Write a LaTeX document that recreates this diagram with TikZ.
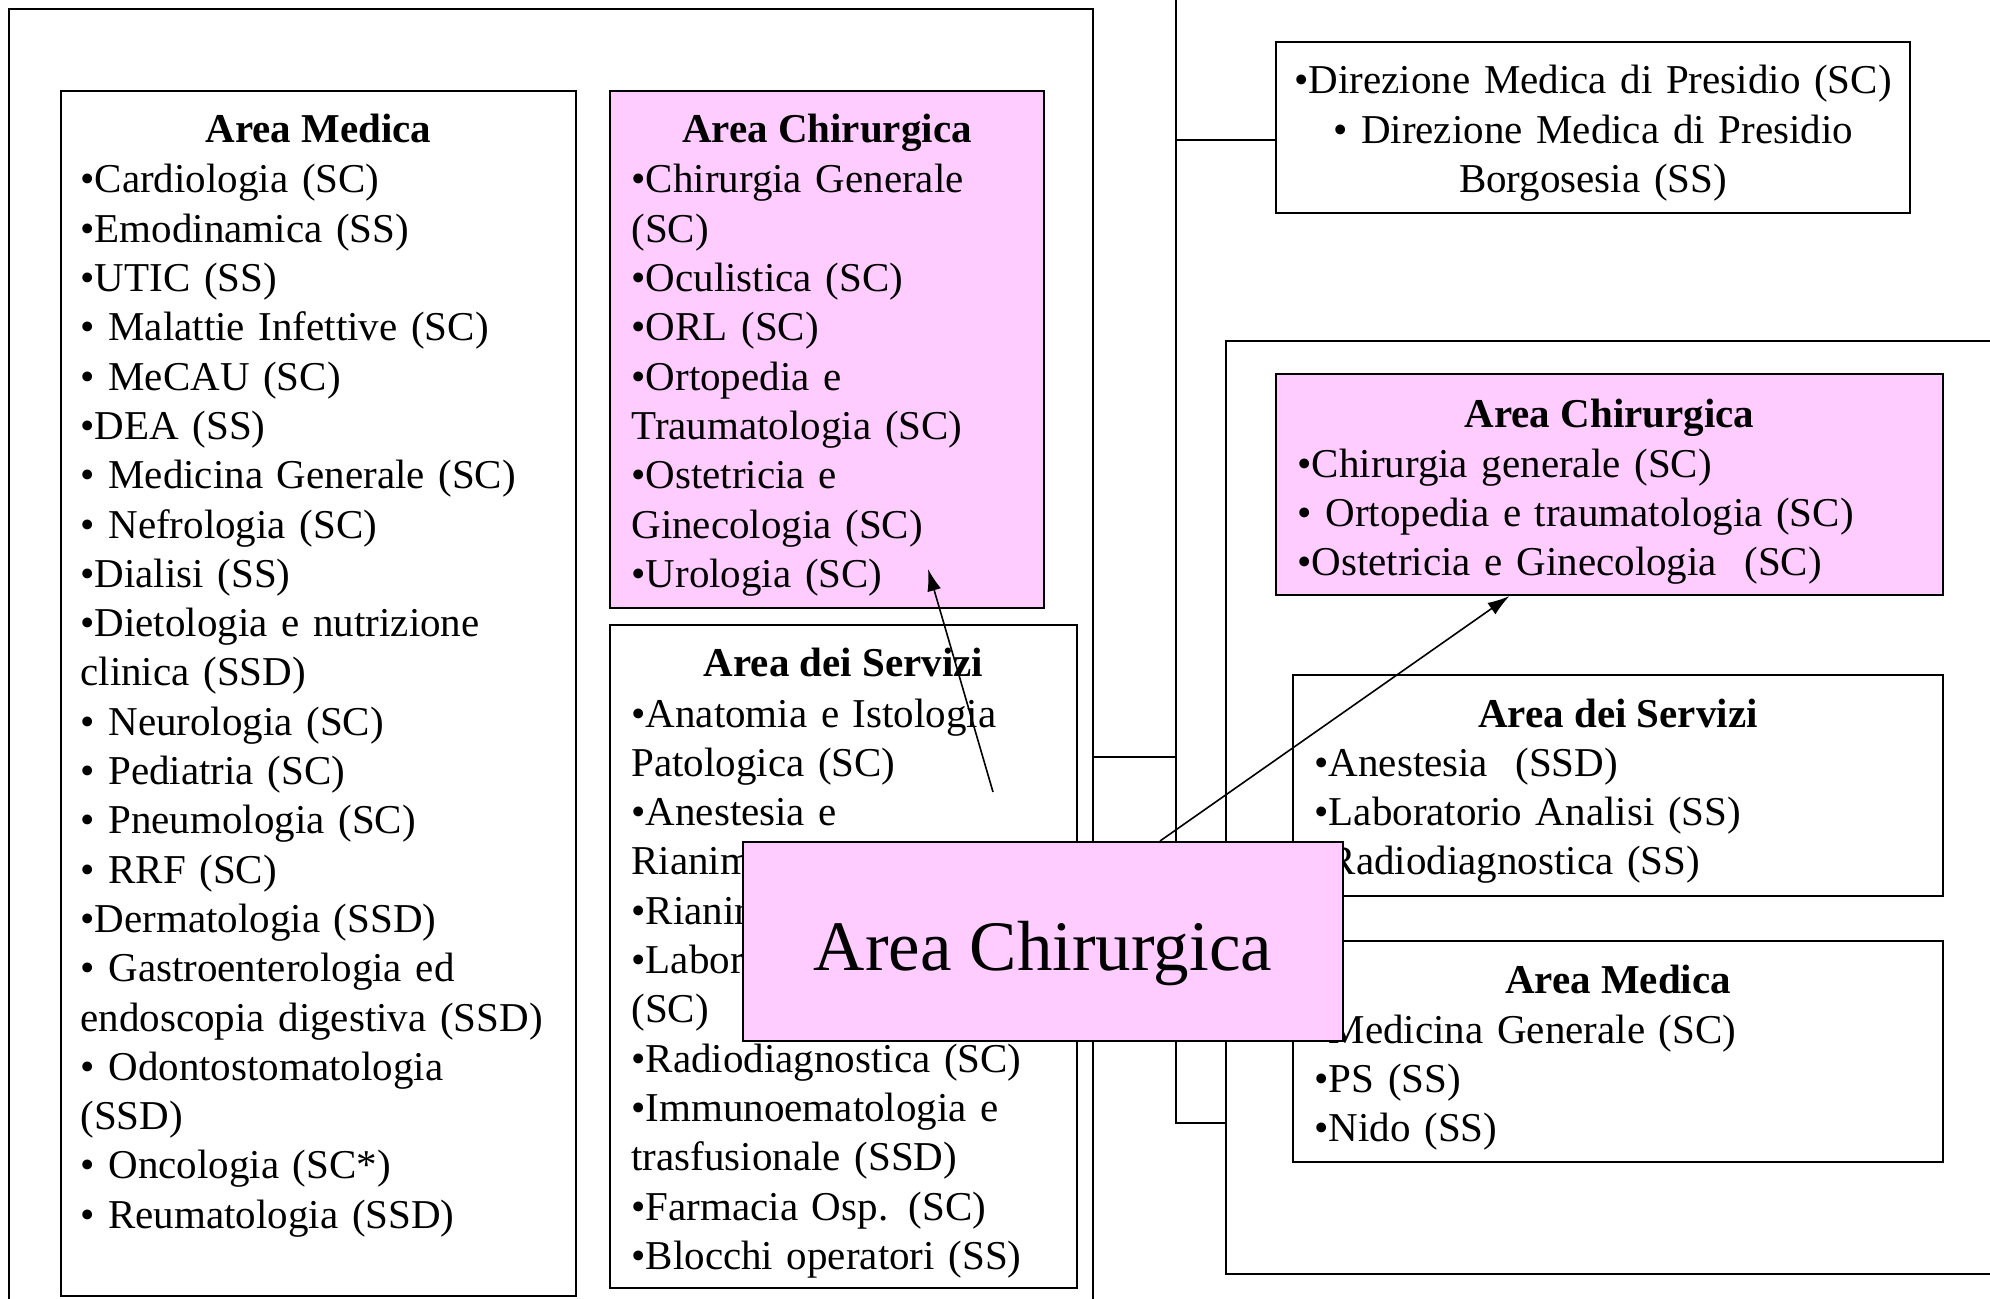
\documentclass[tikz,border=0pt]{standalone}
\usepackage{fontspec}
\setmainfont{Liberation Serif}
\usetikzlibrary{arrows.meta}
\definecolor{chirpink}{HTML}{FFCCFF}

\begin{document}
\begin{tikzpicture}[x=0.5pt,y=-0.5pt,
  frame/.style={draw,line width=1pt,anchor=north west,inner sep=0pt},
  area/.style={frame,fill=white},
  chir/.style={frame,fill=chirpink},
  head/.style={anchor=base,inner sep=0pt,font=\fontsize{20.5}{24.65}\selectfont\bfseries},
  items/.style={anchor=base west,inner sep=0pt,text width=#1,font=\fontsize{20.5}{24.65}\selectfont},
  link/.style={line width=0.8pt},
  pointer/.style={line width=0.8pt,-{Latex[length=11pt,width=7pt]}}]
\clip (0,0) rectangle (1990,1299);

\node[frame,minimum width=542pt,minimum height=656pt] (grpL) at (8,8) {};
\node[frame,minimum width=392.5pt,minimum height=466.5pt] (grpR) at (1225,340) {};

\coordinate (spinetop) at (1176,-10);
\coordinate (jD) at (1176,140);
\coordinate (jL) at (1176,757);
\coordinate (jR) at (1176,1123);
\draw[link] (spinetop) -- (jR) -- (grpR.west |- jR);
\draw[link] (grpL.east |- jL) -- (jL);
\draw[link] (jD) -- (1275,140);

\node[area,minimum width=317pt,minimum height=85.5pt] (dir) at (1275,41) {};
\node[items=310pt,anchor=base] (dirtext) at ([yshift=-26.5pt]dir.north)
  {\centering •Direzione Medica di Presidio (SC)\\ • Direzione Medica di Presidio\\ Borgosesia (SS)\par};

\node[area,minimum width=257.5pt,minimum height=602.5pt] (medL) at (60,90) {};
\node[head] (medLhead) at ([yshift=-26.5pt]medL.north) {Area Medica};
\node[items=240pt] (medLtext) at ([shift={(10pt,-51.5pt)}]medL.north west)
  {•Cardiologia (SC)\\ •Emodinamica (SS)\\ •UTIC (SS)\\ • Malattie Infettive (SC)\\
   • MeCAU (SC)\\ •DEA (SS)\\ • Medicina Generale (SC)\\ • Nefrologia (SC)\\
   •Dialisi (SS)\\ •Dietologia e nutrizione\\ clinica (SSD)\\ • Neurologia (SC)\\
   • Pediatria (SC)\\ • Pneumologia (SC)\\ • RRF (SC)\\ •Dermatologia (SSD)\\
   • Gastroenterologia ed\\ endoscopia digestiva (SSD)\\ • Odontostomatologia\\
   (SSD)\\ • Oncologia (SC*)\\ • Reumatologia (SSD)};

\node[chir,minimum width=217pt,minimum height=258.5pt] (chiL) at (609,90) {};
\node[head] (chiLhead) at ([yshift=-26.5pt]chiL.north) {Area Chirurgica};
\node[items=200pt] (chiLtext) at ([shift={(11pt,-51.5pt)}]chiL.north west)
  {•Chirurgia Generale\\ (SC)\\ •Oculistica (SC)\\ •ORL (SC)\\ •Ortopedia e\\
   Traumatologia (SC)\\ •Ostetricia e\\ Ginecologia (SC)\\ •Urologia (SC)};

\node[area,minimum width=233.5pt,minimum height=331.5pt] (servL) at (609,624) {};
\node[head] (servLhead) at ([yshift=-26pt]servL.north) {Area dei Servizi};
\node[items=215pt] (servLtext) at ([shift={(11pt,-51.5pt)}]servL.north west)
  {•Anatomia e Istologia\\ Patologica (SC)\\ •Anestesia e\\ Rianimazione (SC)\\
   •Rianimazione (SS)\\ •Laboratorio Analisi\\ (SC)\\ •Radiodiagnostica (SC)\\
   •Immunoematologia e\\ trasfusionale (SSD)\\ •Farmacia Osp. (SC)\\ •Blocchi operatori (SS)};

\node[chir,minimum width=333.5pt,minimum height=110.5pt] (chiR) at (1275,373) {};
\node[head] (chiRhead) at ([yshift=-27pt]chiR.north) {Area Chirurgica};
\node[items=310pt] (chiRtext) at ([shift={(11pt,-52pt)}]chiR.north west)
  {•Chirurgia generale (SC)\\ • Ortopedia e traumatologia (SC)\\ •Ostetricia e Ginecologia~ (SC)};

\node[area,minimum width=325pt,minimum height=110.5pt] (servR) at (1292,674) {};
\node[head] (servRhead) at ([yshift=-26.5pt]servR.north) {Area dei Servizi};
\node[items=300pt] (servRtext) at ([shift={(11pt,-51pt)}]servR.north west)
  {•Anestesia~ (SSD)\\ •Laboratorio Analisi (SS)\\ •Radiodiagnostica (SS)};

\node[area,minimum width=325pt,minimum height=110.5pt] (medR) at (1292,940) {};
\node[head] (medRhead) at ([yshift=-26.5pt]medR.north) {Area Medica};
\node[items=300pt] (medRtext) at ([shift={(11pt,-51.5pt)}]medR.north west)
  {•Medicina Generale (SC)\\ •PS (SS)\\ •Nido (SS)};

\coordinate (tailL) at (993,792);
\draw[pointer] (tailL) -- ([shift={(50.5pt,20pt)}]chiL.south);

\node[chir,minimum width=300pt,minimum height=99.5pt] (big) at (742,841) {};
\node[anchor=base,inner sep=0pt,font=\fontsize{35.5}{42}\selectfont] (bigtext) at ([yshift=-14.6pt]big.center) {Area Chirurgica};
\draw[pointer] ([xshift=58.5pt]big.north) -- ([xshift=-50pt]chiR.south);
\end{tikzpicture}
\end{document}
